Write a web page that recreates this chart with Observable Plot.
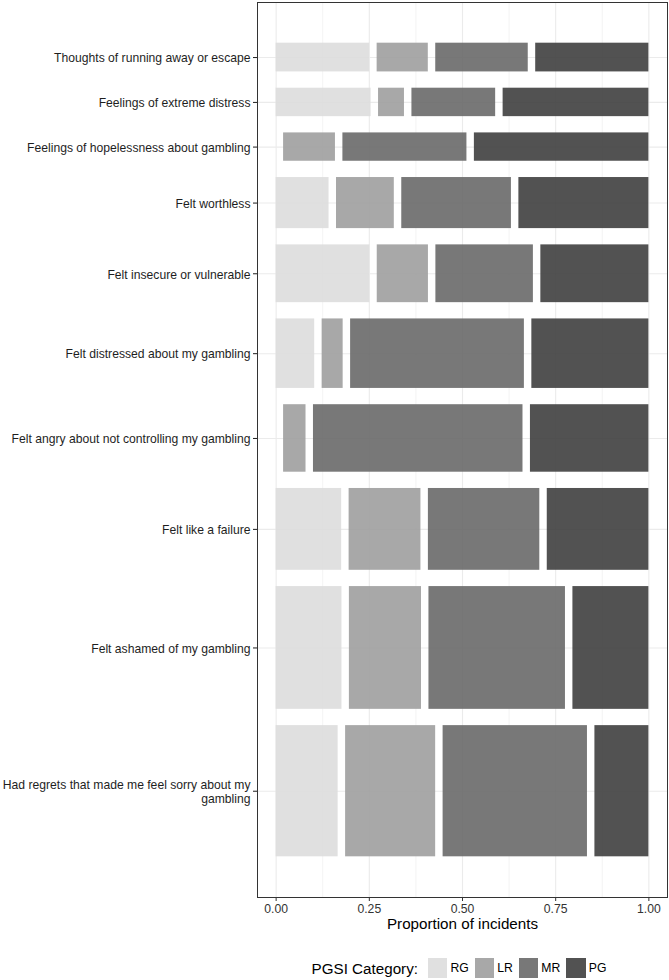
<!DOCTYPE html>
<html><head><meta charset="utf-8">
<script src="https://cdn.jsdelivr.net/npm/d3@7"></script>
<script src="https://cdn.jsdelivr.net/npm/@observablehq/plot@0.6"></script>
<style>
body{margin:0;background:#fff;font-family:"Liberation Sans",Arial,sans-serif;}
#chart svg{display:block;}
#legend{display:flex;align-items:center;justify-content:center;margin-left:257px;width:410px;height:20px;padding-top:18px;color:#000;}
#legend .title{font-size:15.2px;margin-right:10px;}
#legend .key{width:19.5px;height:19.5px;display:inline-block;}
#legend .lab{font-size:12.2px;margin-left:3px;margin-right:6px;}
</style></head><body>
<div id="chart"></div>
<div id="legend"></div>
<script>
// Rows, top to bottom
const items = [
  "Thoughts of running away or escape",
  "Feelings of extreme distress",
  "Feelings of hopelessness about gambling",
  "Felt worthless",
  "Felt insecure or vulnerable",
  "Felt distressed about my gambling",
  "Felt angry about not controlling my gambling",
  "Felt like a failure",
  "Felt ashamed of my gambling",
  "Had regrets that made me feel sorry about my gambling"
];
const categories = ["RG", "LR", "MR", "PG"];
// Proportion of incidents within each row, per PGSI category
const rg = [0.267, 0.271, 0.000, 0.151, 0.267, 0.110, 0.000, 0.187, 0.188, 0.177];
const lr = [0.146, 0.074, 0.148, 0.165, 0.146, 0.060, 0.064, 0.205, 0.206, 0.257];
const mr = [0.264, 0.239, 0.354, 0.313, 0.278, 0.496, 0.598, 0.318, 0.390, 0.412];
const pg = [0.323, 0.416, 0.498, 0.371, 0.308, 0.334, 0.338, 0.290, 0.217, 0.154];
// Relative number of incidents per row (sets bar thickness)
const rowWeight = [28.7, 28.4, 28.3, 51.0, 57.7, 69.4, 67.4, 81.7, 122.6, 131.0];
const xTicks = [0, 0.25, 0.5, 0.75, 1];
const xMinor = [0.125, 0.375, 0.625, 0.875];
const colors = ["#dddddd", "#9e9e9e", "#696969", "#3f3f3f"];

// Mosaic layout (ggmosaic-style spacing)
const gap = 0.02;
const series = [rg, lr, mr, pg];
const usableY = 1 - (items.length - 1) * gap;
const usableX = 1 - (categories.length - 1) * gap;
const totalW = d3.sum(rowWeight);
const cells = [];
const centers = [];
let cursorY = 1;
items.forEach((item, i) => {
  const h = rowWeight[i] / totalW * usableY;
  const y2 = cursorY, y1 = cursorY - h;
  centers.push((y1 + y2) / 2);
  const vals = series.map(s => s[i]);
  const sum = d3.sum(vals);
  let cum = 0;
  categories.forEach((c, j) => {
    const p = vals[j] / sum;
    const x1 = cum * usableX + j * gap;
    cells.push({item, category: c, value: vals[j], x1, x2: x1 + p * usableX, y1, y2});
    cum += p;
  });
  cursorY = y1 - gap;
});
const labelOf = new Map(centers.map((c, i) => [c, items[i]]));
function wrap(s, max = 46) {
  if (s.length <= max) return s;
  const k = s.lastIndexOf(" ", max);
  return s.slice(0, k) + "\n" + s.slice(k + 1);
}

const chart = Plot.plot({
  width: 669, height: 940,
  marginLeft: 257, marginRight: 2, marginTop: 2, marginBottom: 43,
  x: {domain: [-0.05, 1.05]},
  y: {domain: [-0.05, 1.05]},
  color: {domain: categories, range: colors},
  style: {fontFamily: "'Liberation Sans', Arial, sans-serif", background: "#fff"},
  marks: [
    Plot.gridX(xMinor, {stroke: "#ebebeb", strokeOpacity: 1, strokeWidth: 0.6}),
    Plot.gridX(xTicks, {stroke: "#ebebeb", strokeOpacity: 1, strokeWidth: 1.1}),
    Plot.gridY(centers, {stroke: "#ebebeb", strokeOpacity: 1, strokeWidth: 1.1}),
    Plot.rect(cells.filter(d => d.x2 > d.x1), {x1: "x1", x2: "x2", y1: "y1", y2: "y2", fill: "category", fillOpacity: 0.9}),
    Plot.frame({stroke: "#333", strokeWidth: 1}),
    Plot.axisX(xTicks, {tickFormat: d3.format(".2f"), tickSize: 4, tickPadding: 3, fontSize: 12.2, color: "#333", label: null}),
    Plot.axisY(centers, {tickFormat: d => wrap(labelOf.get(d)), tickSize: 4, tickPadding: 3, fontSize: 12.15, color: "#1e1e1e", lineHeight: 1.23, label: null}),
    Plot.text(["Proportion of incidents"], {frameAnchor: "bottom", dy: 31, fontSize: 15.2, fill: "#000"})
  ]
});
document.getElementById("chart").append(chart);

const legend = document.getElementById("legend");
legend.innerHTML = `<span class="title">PGSI Category:</span>` +
  categories.map((c, i) => `<span class="key" style="background:${colors[i]};opacity:0.9"></span><span class="lab">${c}</span>`).join("");
</script>
</body></html>
